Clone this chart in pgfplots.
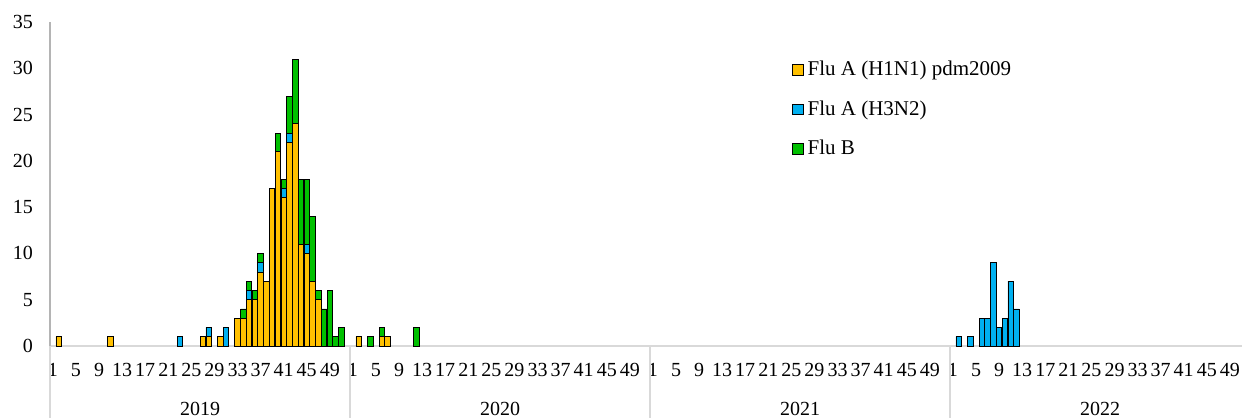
\documentclass[border=0pt]{standalone}
\usepackage{fontspec}
\setmainfont{Liberation Serif}
\usepackage{pgfplots}
\pgfplotsset{compat=1.18}
\usepackage{pgfplotstable}
\definecolor{cA}{HTML}{FFC000}
\definecolor{cB}{HTML}{00B0F0}
\definecolor{cC}{HTML}{00C000}
\definecolor{axgray}{HTML}{D9D9D9}
\definecolor{yaxgray}{HTML}{B4B4B4}

\pgfplotstableread{
x a b c
2 1 0 0
11 1 0 0
23 0 1 0
27 1 0 0
28 1 1 0
30 1 0 0
31 0 2 0
33 3 0 0
34 3 0 1
35 5 1 1
36 5 0 1
37 8 1 1
38 7 0 0
39 17 0 0
40 21 0 2
41 16 1 1
42 22 1 4
43 24 0 7
44 11 0 7
45 10 1 7
46 7 0 7
47 5 0 1
48 0 0 4
49 0 0 6
50 0 0 1
51 0 0 2
54 1 0 0
56 0 0 1
58 1 0 1
59 1 0 0
64 0 0 2
158 0 1 0
160 0 1 0
162 0 3 0
163 0 3 0
164 0 9 0
165 0 2 0
166 0 3 0
167 0 7 0
168 0 4 0
}\flu

\begin{document}
\begin{tikzpicture}
\useasboundingbox (-25pt,-36pt) rectangle (596pt,173pt);
\begin{axis}[
  at={(0,0)}, anchor=south west,
  scale only axis, width=596pt, height=162pt,
  xmin=0.5, xmax=207.1, ymin=0, ymax=35,
  ybar stacked, bar width=0.95,
  axis x line*=bottom, axis y line*=left,
  x axis line style={axgray, line width=0.75pt},
  y axis line style={yaxgray, line width=0.75pt},
  xtick={1,5,...,205},
  xticklabels={1,5,9,13,17,21,25,29,33,37,41,45,49,
               1,5,9,13,17,21,25,29,33,37,41,45,49,
               1,5,9,13,17,21,25,29,33,37,41,45,49,
               1,5,9,13,17,21,25,29,33,37,41,45,49},
  ytick={0,5,...,35},
  major tick length=0pt,
  tick label style={font=\fontsize{10}{12}\selectfont, text=black},
  /pgf/number format/assume math mode=true,
  xticklabel style={yshift=-5pt},
  yticklabel style={xshift=-5pt},
  clip=false,
  legend style={at={(0.6225,0.893)}, anchor=north west, draw=none, fill=none,
    inner sep=0pt, row sep=7pt, font=\fontsize{10.5}{12}\selectfont,
    /tikz/every even column/.append style={column sep=0pt}},
  legend cell align=left,
  legend image code/.code={\draw[#1,draw=black,line width=0.4pt] (0pt,-2.6pt) rectangle (5.2pt,2.6pt);},
]
\addplot[fill=cA, draw=black, line width=0.4pt] table[x=x, y=a] {\flu};
\addlegendentry{Flu A (H1N1) pdm2009}
\addplot[fill=cB, draw=black, line width=0.4pt] table[x=x, y=b] {\flu};
\addlegendentry{Flu A (H3N2)}
\addplot[fill=cC, draw=black, line width=0.4pt] table[x=x, y=c] {\flu};
\addlegendentry{Flu B}

\draw[axgray, line width=0.75pt] (axis cs:0.5,0) -- ++(0pt,-36pt);
\draw[axgray, line width=0.75pt] (axis cs:52.5,0) -- ++(0pt,-36pt);
\draw[axgray, line width=0.75pt] (axis cs:104.5,0) -- ++(0pt,-36pt);
\draw[axgray, line width=0.75pt] (axis cs:156.5,0) -- ++(0pt,-36pt);
\node[font=\fontsize{10}{12}\selectfont, yshift=-31.5pt] at (axis cs:26.5,0) {2019};
\node[font=\fontsize{10}{12}\selectfont, yshift=-31.5pt] at (axis cs:78.5,0) {2020};
\node[font=\fontsize{10}{12}\selectfont, yshift=-31.5pt] at (axis cs:130.5,0) {2021};
\node[font=\fontsize{10}{12}\selectfont, yshift=-31.5pt] at (axis cs:182.5,0) {2022};
\end{axis}
\end{tikzpicture}
\end{document}
